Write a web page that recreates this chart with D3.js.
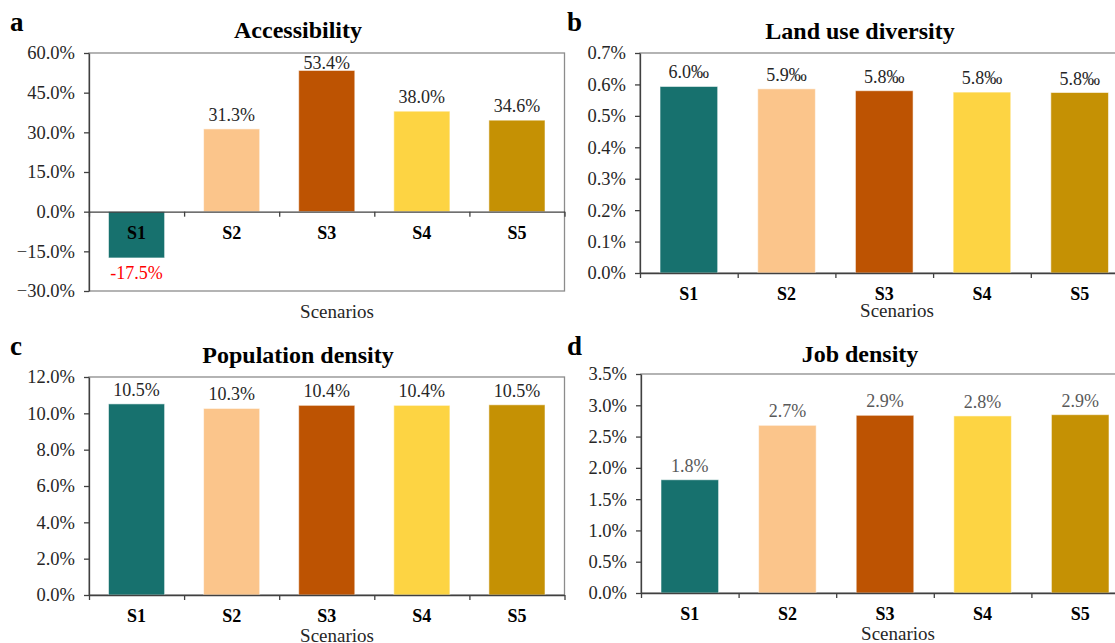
<!DOCTYPE html>
<html>
<head>
<meta charset="utf-8">
<script src="https://cdn.jsdelivr.net/npm/d3@7"></script>
<style>
  html, body { margin: 0; padding: 0; background: #fff; }
  svg { display: block; }
  svg text { font-family: "Liberation Serif", "DejaVu Serif", serif; }
</style>
</head>
<body>
<svg id="chart" width="1115" height="643"></svg>
<script>
// data
const scenarios = ["S1", "S2", "S3", "S4", "S5"];
const colors = ["#17716e", "#fbc58b", "#bd5302", "#fdd443", "#c59104"];

const accessibility = [-17.5, 31.3, 53.4, 38.0, 34.6];
const accessibilityLabels = ["-17.5%", "31.3%", "53.4%", "38.0%", "34.6%"];

const landUse = [0.5935, 0.586, 0.58, 0.5756, 0.5743];
const landUseLabels = ["6.0‰", "5.9‰", "5.8‰", "5.8‰", "5.8‰"];

const popDensity = [10.52, 10.27, 10.44, 10.44, 10.47];
const popDensityLabels = ["10.5%", "10.3%", "10.4%", "10.4%", "10.5%"];

const jobDensity = [1.81, 2.68, 2.84, 2.83, 2.85];
const jobDensityLabels = ["1.8%", "2.7%", "2.9%", "2.8%", "2.9%"];

const FONT = "Liberation Serif, DejaVu Serif, serif";

const panels = [
  {
    letter: "a", title: "Accessibility", values: accessibility, labels: accessibilityLabels,
    domain: [-30, 60], step: 15,
    left: 89, right: 564.5, top: 53, bottom: 291,
    letterX: 10, letterY: 31, titleX: 298, titleY: 38, xTitleX: 337, xTitleY: 318,
    labelColor: "#262626",
  },
  {
    letter: "b", title: "Land use diversity", values: landUse, labels: landUseLabels,
    domain: [0, 0.7], step: 0.1,
    left: 640, right: 1128.5, top: 53, bottom: 273,
    letterX: 567, letterY: 31, titleX: 860, titleY: 39, xTitleX: 897, xTitleY: 317,
    labelColor: "#262626",
  },
  {
    letter: "c", title: "Population density", values: popDensity, labels: popDensityLabels,
    domain: [0, 12], step: 2,
    left: 89, right: 564.5, top: 377, bottom: 595,
    letterX: 10, letterY: 355, titleX: 298, titleY: 363, xTitleX: 337, xTitleY: 642,
    labelColor: "#262626",
  },
  {
    letter: "d", title: "Job density", values: jobDensity, labels: jobDensityLabels,
    domain: [0, 3.5], step: 0.5,
    left: 641, right: 1129, top: 374, bottom: 593,
    letterX: 567, letterY: 355, titleX: 860, titleY: 362, xTitleX: 898, xTitleY: 640,
    labelColor: "#595959",
  },
];

const svg = d3.select("#chart");

function drawPanel(p) {
  const g = svg.append("g").attr("class", `panel-${p.letter}`);

  const y = d3.scaleLinear().domain(p.domain).range([p.bottom, p.top]);
  const x = d3
    .scaleBand()
    .domain(scenarios)
    .range([p.left, p.right])
    .paddingInner(0.41)
    .paddingOuter(0.205);
  // band edges, for the category tick marks
  const edges = d3.scaleLinear().domain([0, scenarios.length]).range([p.left, p.right]);

  // plot area frame
  g.append("rect")
    .attr("x", p.left)
    .attr("y", p.top)
    .attr("width", p.right - p.left)
    .attr("height", p.bottom - p.top)
    .attr("fill", "none")
    .attr("stroke", "#8c8c8c")
    .attr("stroke-width", 1.3);

  // bars
  g.append("g")
    .selectAll("rect")
    .data(p.values)
    .join("rect")
    .attr("x", (d, i) => x(scenarios[i]))
    .attr("y", (d) => y(Math.max(0, d)))
    .attr("width", x.bandwidth())
    .attr("height", (d) => Math.abs(y(d) - y(0)))
    .attr("fill", (d, i) => colors[i])
    .attr("stroke", "rgba(255,255,255,0.55)")
    .attr("stroke-width", 1);

  // y axis
  const ticks = d3.range(p.domain[0], p.domain[1] + p.step / 2, p.step);
  g.append("g")
    .attr("transform", `translate(${p.left},0)`)
    .call(
      d3.axisLeft(y)
        .tickValues(ticks)
        .tickSize(5)
        .tickSizeOuter(0)
        .tickFormat((d) => d3.format(".1f")(d) + "%")
    )
    .attr("font-family", FONT)
    .call((a) => a.selectAll(".domain, .tick line").attr("stroke", "#404040").attr("stroke-width", 1.3))
    .call((a) =>
      a.selectAll(".tick text")
        .attr("x", -14)
        .attr("font-size", "18.5px")
        .attr("fill", "#262626")
    );

  // category axis at zero line, ticks on band edges
  g.append("g")
    .attr("transform", `translate(0,${y(0)})`)
    .call(
      d3.axisBottom(edges)
        .tickValues(d3.range(0, scenarios.length + 1))
        .tickSize(5)
        .tickSizeOuter(0)
        .tickFormat("")
    )
    .call((a) => a.selectAll(".domain, .tick line").attr("stroke", "#404040").attr("stroke-width", 1.3));

  g.append("g")
    .selectAll("text")
    .data(scenarios)
    .join("text")
    .attr("x", (d) => x(d) + x.bandwidth() / 2)
    .attr("y", y(0) + 27)
    .attr("text-anchor", "middle")
    .attr("font-size", "18px")
    .attr("font-weight", "bold")
    .attr("fill", "#000")
    .text((d) => d);

  // value labels
  g.append("g")
    .selectAll("text")
    .data(p.values)
    .join("text")
    .attr("x", (d, i) => x(scenarios[i]) + x.bandwidth() / 2)
    .attr("y", (d) => (d < 0 ? y(d) + 21 : Math.max(y(d) - 8, p.top + 16)))
    .attr("text-anchor", "middle")
    .attr("font-size", "18px")
    .attr("fill", (d) => (d < 0 ? "#ff0000" : p.labelColor))
    .text((d, i) => p.labels[i]);

  // titles
  g.append("text")
    .attr("x", p.titleX)
    .attr("y", p.titleY)
    .attr("text-anchor", "middle")
    .attr("font-size", "24px")
    .attr("font-weight", "bold")
    .text(p.title);

  g.append("text")
    .attr("x", p.xTitleX)
    .attr("y", p.xTitleY)
    .attr("text-anchor", "middle")
    .attr("font-size", "19px")
    .attr("fill", "#262626")
    .text("Scenarios");

  g.append("text")
    .attr("x", p.letterX)
    .attr("y", p.letterY)
    .attr("font-size", "27px")
    .attr("font-weight", "bold")
    .text(p.letter);
}

panels.forEach(drawPanel);
</script>
</body>
</html>
